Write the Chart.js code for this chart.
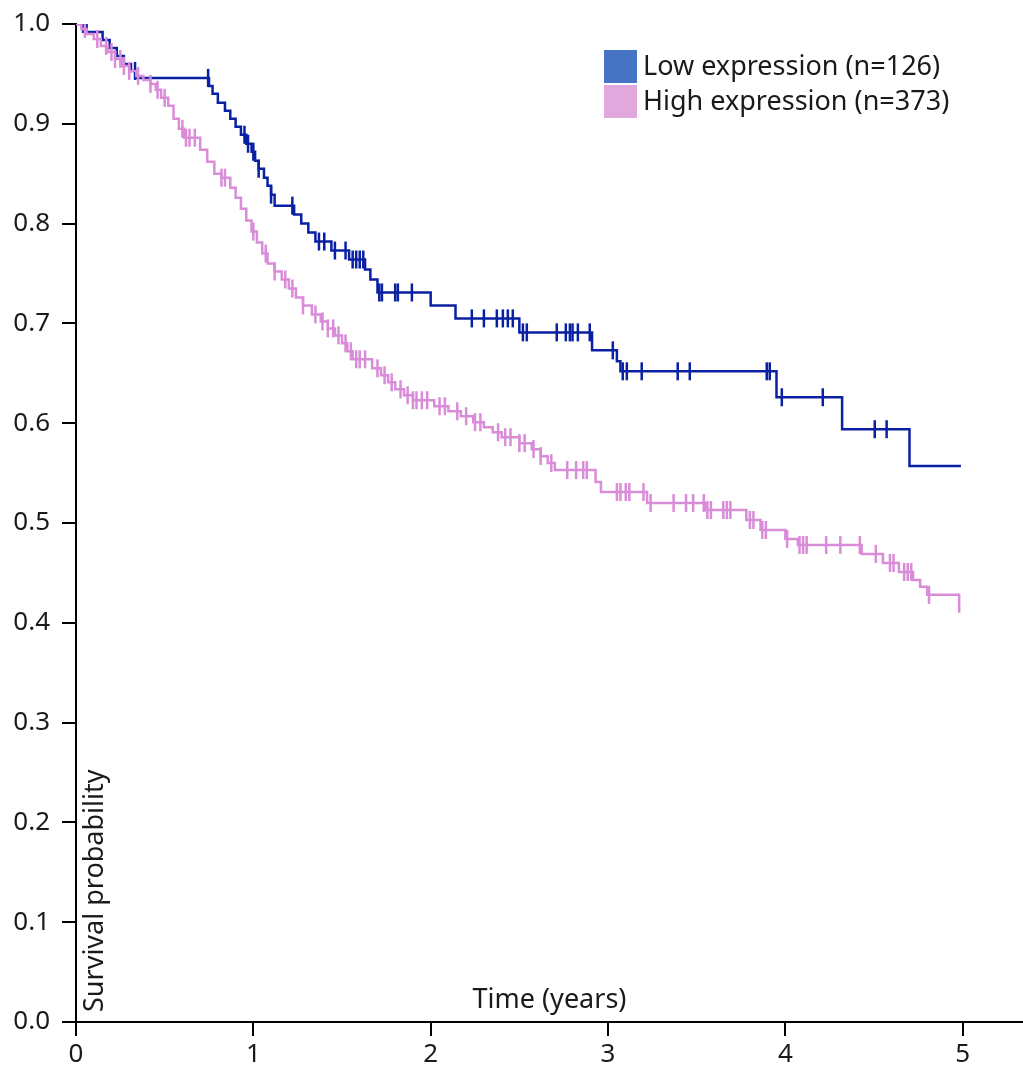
<!DOCTYPE html>
<html>
<head>
<meta charset="utf-8">
<script src="https://cdn.jsdelivr.net/npm/chart.js@4/dist/chart.umd.min.js"></script>
<style>
  html, body { margin: 0; padding: 0; background: #fff; overflow: hidden; }
  canvas { display: block; }
</style>
</head>
<body>
<canvas id="km" width="1023" height="1066"></canvas>
<script>
// Kaplan-Meier steps (time in years, survival probability)
const TIME_LOW = [0, 0.06, 0.15, 0.19, 0.23, 0.27, 0.31, 0.34, 0.75, 0.77,
    0.80, 0.84, 0.87, 0.90, 0.93, 0.96, 0.99, 1.01, 1.03, 1.06,
    1.08, 1.10, 1.12, 1.23, 1.27, 1.31, 1.35, 1.44, 1.54, 1.63,
    1.66, 1.70, 2.00, 2.14, 2.50, 2.91, 3.05, 3.07, 3.95, 4.32,
    4.70, 4.99];
const SURV_LOW = [1.0, 0.992, 0.984, 0.976, 0.968, 0.960, 0.953, 0.946, 0.938, 0.930,
    0.921, 0.913, 0.905, 0.897, 0.889, 0.880, 0.872, 0.863, 0.855, 0.846,
    0.838, 0.829, 0.818, 0.809, 0.800, 0.791, 0.782, 0.773, 0.764, 0.754,
    0.744, 0.731, 0.718, 0.705, 0.691, 0.673, 0.662, 0.652, 0.626, 0.594,
    0.557, 0.557];
const CENSOR_LOW = [0.04, 0.333, 0.745, 0.95, 0.97, 1.00, 1.03, 1.10, 1.22, 1.37,
    1.40, 1.46, 1.52, 1.56, 1.58, 1.60, 1.62, 1.71, 1.725, 1.80,
    1.815, 1.894, 2.232, 2.30, 2.373, 2.407, 2.435, 2.463, 2.52, 2.542,
    2.711, 2.762, 2.785, 2.80, 2.83, 2.897, 3.027, 3.083, 3.106, 3.19,
    3.393, 3.461, 3.895, 3.912, 3.98, 4.211, 4.504, 4.571];

const TIME_HIGH = [0, 0.03, 0.06, 0.10, 0.14, 0.18, 0.22, 0.26, 0.30, 0.34,
    0.38, 0.42, 0.45, 0.48, 0.52, 0.55, 0.58, 0.61, 0.70, 0.74,
    0.78, 0.82, 0.87, 0.90, 0.93, 0.96, 0.99, 1.02, 1.05, 1.08,
    1.12, 1.16, 1.20, 1.24, 1.28, 1.33, 1.38, 1.42, 1.46, 1.50,
    1.53, 1.56, 1.67, 1.72, 1.76, 1.80, 1.85, 1.90, 2.02, 2.10,
    2.17, 2.24, 2.30, 2.35, 2.40, 2.50, 2.57, 2.62, 2.66, 2.70,
    2.93, 2.96, 3.22, 3.55, 3.78, 3.86, 4.00, 4.07, 4.43, 4.55,
    4.64, 4.72, 4.76, 4.80, 4.98];
const SURV_HIGH = [1.0, 0.995, 0.990, 0.985, 0.978, 0.972, 0.965, 0.958, 0.953, 0.948,
    0.944, 0.940, 0.934, 0.926, 0.918, 0.905, 0.895, 0.886, 0.874, 0.862,
    0.850, 0.846, 0.836, 0.826, 0.815, 0.803, 0.792, 0.781, 0.770, 0.760,
    0.752, 0.744, 0.735, 0.726, 0.718, 0.709, 0.702, 0.695, 0.688, 0.680,
    0.672, 0.664, 0.655, 0.648, 0.641, 0.634, 0.628, 0.623, 0.617, 0.612,
    0.607, 0.601, 0.596, 0.591, 0.586, 0.580, 0.574, 0.567, 0.560, 0.553,
    0.541, 0.531, 0.520, 0.513, 0.503, 0.493, 0.484, 0.478, 0.469, 0.460,
    0.451, 0.443, 0.436, 0.428, 0.410];
const CENSOR_HIGH = [0.05, 0.12, 0.17, 0.20, 0.22, 0.25, 0.27, 0.30, 0.35, 0.42,
    0.46, 0.50, 0.60, 0.62, 0.64, 0.67, 0.82, 0.84, 1.00, 1.07,
    1.12, 1.18, 1.22, 1.28, 1.35, 1.39, 1.42, 1.45, 1.48, 1.52,
    1.55, 1.58, 1.60, 1.63, 1.70, 1.74, 1.78, 1.83, 1.87, 1.90,
    1.92, 1.95, 1.98, 2.05, 2.08, 2.15, 2.20, 2.25, 2.28, 2.38,
    2.42, 2.45, 2.50, 2.53, 2.58, 2.62, 2.68, 2.77, 2.82, 2.86,
    2.88, 3.05, 3.07, 3.10, 3.12, 3.20, 3.24, 3.37, 3.44, 3.48,
    3.54, 3.56, 3.58, 3.65, 3.67, 3.69, 3.80, 3.82, 3.87, 3.89,
    4.01, 4.08, 4.10, 4.12, 4.23, 4.31, 4.42, 4.51, 4.59, 4.61,
    4.67, 4.69, 4.71, 4.81];

const LEGEND_LABELS = ['Low expression (n=126)', 'High expression (n=373)'];
const X_TITLE = 'Time (years)';
const Y_TITLE = 'Survival probability';

const BLUE = '#0a20a3';
const PINK = '#d98cd8';
const BLUE_BOX = '#4673c4';
const PINK_BOX = '#e0a8dc';
const FONT = '"Noto Sans", "Open Sans", sans-serif';

function toPoints(times, surv) {
    return times.map((t, i) => ({ x: t, y: surv[i] }));
}

// survival level of the curve at time t (for placing censor marks)
function levelAt(times, surv, t) {
    let s = surv[0];
    for (let i = 0; i < times.length; i++) {
        if (times[i] <= t) s = surv[i];
    }
    return s;
}

function censorPoints(censors, times, surv) {
    return censors.map(t => ({ x: t, y: levelAt(times, surv, t) }));
}

// axis titles sit inside the plot, legend is drawn top right
const overlay = {
    id: 'overlay',
    afterDraw(chart) {
        const ctx = chart.ctx;
        const area = chart.chartArea;
        ctx.save();
        ctx.fillStyle = '#1a1a1a';
        ctx.font = '27px ' + FONT;
        ctx.textBaseline = 'middle';

        ctx.textAlign = 'center';
        ctx.fillText(X_TITLE, (area.left + area.right) / 2, area.bottom - 22);

        ctx.save();
        ctx.translate(area.left + 19, area.bottom - 10);
        ctx.rotate(-Math.PI / 2);
        ctx.textAlign = 'left';
        ctx.fillText(Y_TITLE, 0, 0);
        ctx.restore();

        const boxes = [BLUE_BOX, PINK_BOX];
        ctx.textAlign = 'left';
        LEGEND_LABELS.forEach((label, i) => {
            const y = 50 + i * 35;
            ctx.fillStyle = boxes[i];
            ctx.fillRect(604, y, 33, 33);
            ctx.fillStyle = '#1a1a1a';
            ctx.fillText(label, 643, y + 17);
        });
        ctx.restore();
    }
};

const ctx = document.getElementById('km').getContext('2d');
new Chart(ctx, {
    type: 'scatter',
    data: {
        datasets: [
            {
                data: toPoints(TIME_HIGH, SURV_HIGH),
                showLine: true,
                stepped: 'before',
                borderColor: PINK,
                borderWidth: 2.5,
                pointRadius: 0
            },
            {
                data: censorPoints(CENSOR_HIGH, TIME_HIGH, SURV_HIGH),
                showLine: false,
                pointStyle: 'line',
                rotation: 90,
                pointRadius: 9,
                borderColor: PINK,
                borderWidth: 2.5
            },
            {
                data: toPoints(TIME_LOW, SURV_LOW),
                showLine: true,
                stepped: 'before',
                borderColor: BLUE,
                borderWidth: 2.5,
                pointRadius: 0
            },
            {
                data: censorPoints(CENSOR_LOW, TIME_LOW, SURV_LOW),
                showLine: false,
                pointStyle: 'line',
                rotation: 90,
                pointRadius: 9,
                borderColor: BLUE,
                borderWidth: 2.5
            }
        ]
    },
    options: {
        responsive: false,
        animation: false,
        layout: { autoPadding: false, padding: { top: 24, right: 0, left: 0, bottom: 0 } },
        plugins: {
            legend: { display: false },
            tooltip: { enabled: false }
        },
        scales: {
            x: {
                type: 'linear',
                min: 0,
                max: 5.34,
                afterFit: scale => {
                    scale.height = 44;
                    scale.paddingRight = 0;
                    scale.paddingLeft = 0;
                },
                border: { display: true, color: '#000', width: 2 },
                grid: { drawOnChartArea: false, drawTicks: true, tickLength: 14, color: '#000', lineWidth: 2 },
                ticks: {
                    stepSize: 1,
                    includeBounds: false,
                    padding: 3,
                    color: '#1a1a1a',
                    font: { family: FONT, size: 26 },
                    maxRotation: 0
                }
            },
            y: {
                type: 'linear',
                min: 0,
                max: 1,
                afterFit: scale => {
                    scale.width = 76;
                    scale.paddingTop = 0;
                    scale.paddingBottom = 0;
                },
                border: { display: true, color: '#000', width: 2 },
                grid: { drawOnChartArea: false, drawTicks: true, tickLength: 14, color: '#000', lineWidth: 2 },
                ticks: {
                    stepSize: 0.1,
                    padding: 12,
                    color: '#1a1a1a',
                    font: { family: FONT, size: 26 },
                    callback: v => v.toFixed(1)
                }
            }
        }
    },
    plugins: [overlay]
});
</script>
</body>
</html>
